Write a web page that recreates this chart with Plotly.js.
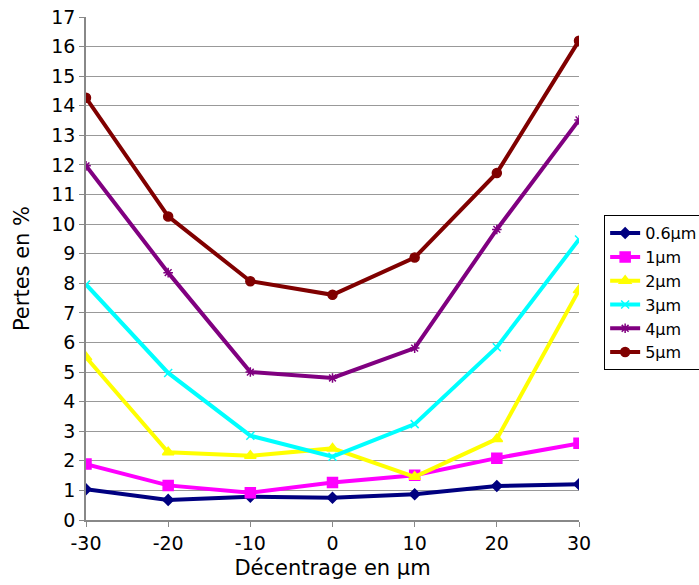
<!DOCTYPE html>
<html><head><meta charset="utf-8">
<script src="https://cdn.plot.ly/plotly-3.0.1.min.js"></script>
<style>body{margin:0;background:#fff}#c{width:699px;height:585px}</style>
</head><body><div id="c"></div>
<script>
const xVals = [-30, -20, -10, 0, 10, 20, 30];
const names = ["0.6µm", "1µm", "2µm", "3µm", "4µm", "5µm"];
const s06 = [1.04, 0.68, 0.79, 0.75, 0.87, 1.15, 1.21];
const s1 = [1.89, 1.17, 0.92, 1.27, 1.51, 2.09, 2.59];
const s2 = [5.5, 2.29, 2.17, 2.42, 1.46, 2.74, 7.77];
const s3 = [7.96, 4.97, 2.85, 2.14, 3.24, 5.84, 9.48];
const s4 = [11.97, 8.36, 5.0, 4.8, 5.81, 9.82, 13.52];
const s5 = [14.27, 10.26, 8.07, 7.61, 8.87, 11.73, 16.2];
const series = [s06, s1, s2, s3, s4, s5];
const colors = ["#000080", "#FF00FF", "#FFFF00", "#00FFFF", "#800080", "#800000"];
const symbols = ["diamond", "square", "triangle-up", "x-thin-open", "asterisk-open", "circle"];
const sizes = [8, 10, 10, 8, 8, 9];

const traces = series.map((s, i) => ({
  x: xVals, y: s, name: names[i], type: "scatter", mode: "lines+markers",
  line: {color: colors[i], width: 4},
  marker: {symbol: symbols[i], size: sizes[i], color: colors[i], line: {color: colors[i], width: 1.5}}
}));

const layout = {
  width: 699, height: 585,
  margin: {l: 86, r: 120, t: 17, b: 65, autoexpand: false},
  paper_bgcolor: "#fff", plot_bgcolor: "#fff",
  font: {family: "DejaVu Sans", color: "#000"},
  showlegend: true,
  legend: {x: 1.051, xanchor: "left", y: 0.606, yanchor: "top",
    bordercolor: "#000", borderwidth: 1, bgcolor: "#fff",
    font: {size: 16, family: "DejaVu Sans"}, itemwidth: 30, tracegroupgap: 0},
  xaxis: {range: [-30, 30], tickvals: xVals, ticktext: xVals.map(String),
    showgrid: false, zeroline: false, showline: true, linecolor: "#888", linewidth: 1.5,
    ticks: "outside", ticklen: 5, tickcolor: "#888",
    tickfont: {size: 19}, title: {text: "Décentrage en µm", font: {size: 21}, standoff: 8}},
  yaxis: {range: [0, 17], dtick: 1, showgrid: true, gridcolor: "#999", gridwidth: 1.2,
    zeroline: false, showline: true, linecolor: "#888", linewidth: 1.5,
    ticks: "outside", ticklen: 5, tickcolor: "#888",
    tickfont: {size: 19}, title: {text: "Pertes en %", font: {size: 21}, standoff: 16}}
};
Plotly.newPlot("c", traces, layout, {displayModeBar: false});
</script></body></html>
